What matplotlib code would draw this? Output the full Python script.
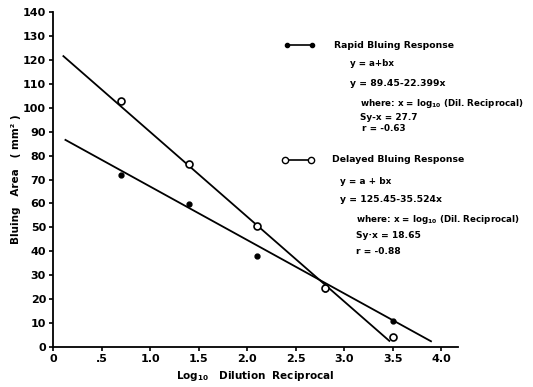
import numpy as np
import matplotlib
matplotlib.use("Agg")
import matplotlib.pyplot as plt
from matplotlib.lines import Line2D

# log10 of dilution reciprocal (5, 25, 125, 625, 3125)
log_dil = [0.70, 1.40, 2.10, 2.80, 3.50]
rapid_area = [71.7, 59.6, 38.0, 24.0, 10.9]
delayed_area = [102.8, 76.5, 50.6, 24.4, 3.9]

# regression fits printed on the chart
rapid_fit = (89.45, -22.399)
delayed_fit = (125.45, -35.524)
rapid_span = (0.12, 3.90)
delayed_span = (0.10, 3.47)

x_ticks = [0, 0.5, 1.0, 1.5, 2.0, 2.5, 3.0, 3.5, 4.0]
x_ticklabels = ['0', '.5', '1.0', '1.5', '2.0', '2.5', '3.0', '3.5', '4.0']
y_ticks = list(range(0, 141, 10))

W, H = 533, 387
plt.rcParams['font.family'] = 'DejaVu Sans'
plt.rcParams['font.weight'] = 'bold'

fig = plt.figure(figsize=(W / 100, H / 100), dpi=100)
ax = fig.add_axes([53 / W, 1 - 346.7 / H, (458 - 53) / W, (346.7 - 12.3) / H])

for (a, b), (x0, x1) in [(rapid_fit, rapid_span), (delayed_fit, delayed_span)]:
    xs = np.array([x0, x1])
    ax.plot(xs, a + b * xs, color='black', lw=1.3, solid_capstyle='butt')

ax.plot(log_dil, rapid_area, 'o', ms=3.5, color='black', ls='none')
ax.plot(log_dil, delayed_area, 'o', ms=5, mfc='white', mec='black', mew=1.2, ls='none')

ax.set_xlim(0, 4.17)
ax.set_ylim(0, 140)
ax.set_xticks(x_ticks)
ax.set_xticklabels(x_ticklabels)
ax.set_yticks(y_ticks)
ax.spines['top'].set_visible(False)
ax.spines['right'].set_visible(False)
for s in ['left', 'bottom']:
    ax.spines[s].set_linewidth(1.3)
ax.tick_params(direction='out', length=3, width=1.2, labelsize=8, pad=2)

ax.set_ylabel('Bluing   Area   ( mm² )', fontsize=7.5, fontweight='bold', labelpad=1)
ax.set_xlabel(r'Log$_{\mathbf{10}}$   Dilution  Reciprocal', fontsize=7.5, fontweight='bold', labelpad=4)


def ftext(px, py, s, size=6.5):
    fig.text(px / W, 1 - py / H, s, fontsize=size, fontweight='bold', va='center', ha='left')


# legend-like annotation block
fig.add_artist(Line2D([287 / W, 312 / W], [1 - 45 / H, 1 - 45 / H], color='black', lw=1.2,
                      marker='o', ms=3, transform=fig.transFigure))
fig.add_artist(Line2D([285 / W, 311 / W], [1 - 160 / H, 1 - 160 / H], color='black', lw=1.2,
                      marker='o', ms=4.5, mfc='white', mec='black', transform=fig.transFigure))

ftext(334, 45, 'Rapid Bluing Response', 6.7)
ftext(350, 63, 'y = a+bx', 6.3)
ftext(350, 84, 'y = 89.45-22.399x', 6.7)
ftext(360, 104, r'where: x = log$_{\mathbf{10}}$ (Dil. Reciprocal)', 6.3)
ftext(360, 117, 'Sy-x = 27.7', 6.4)
ftext(362, 129, 'r = -0.63', 6.4)

ftext(332, 160, 'Delayed Bluing Response', 6.7)
ftext(340, 181, 'y = a + bx', 6.4)
ftext(340, 200, 'y = 125.45-35.524x', 6.7)
ftext(356, 220, r'where: x = log$_{\mathbf{10}}$ (Dil. Reciprocal)', 6.3)
ftext(356, 236, 'Sy·x = 18.65', 6.6)
ftext(356, 251, 'r = -0.88', 6.6)

fig.savefig('out.png', dpi=100)
